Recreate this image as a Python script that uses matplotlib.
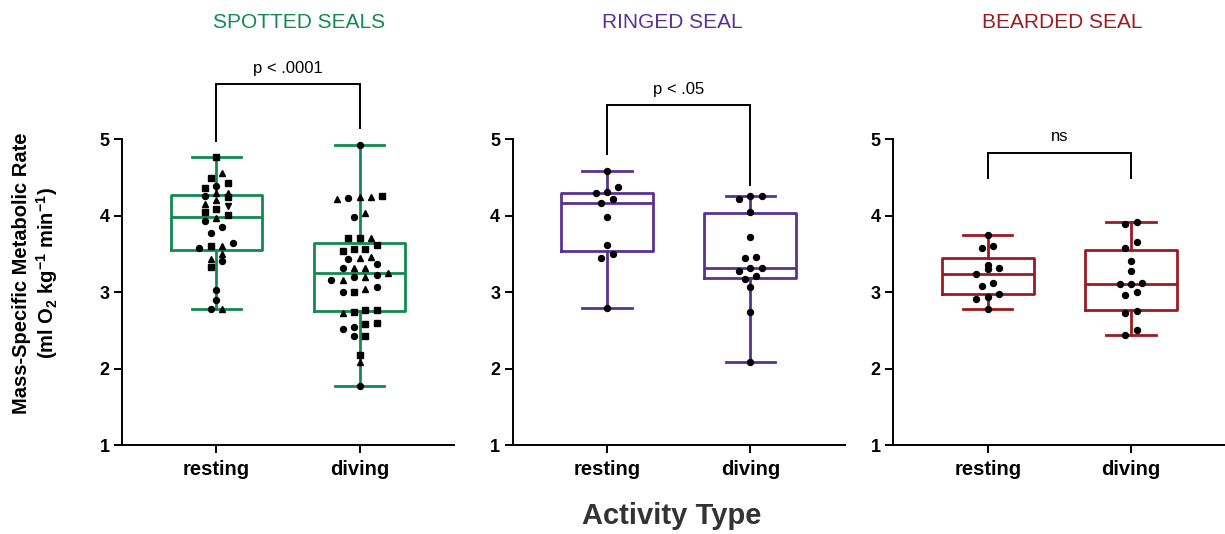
import numpy as np
import matplotlib
matplotlib.use('Agg')
import matplotlib.pyplot as plt

plt.rcParams['font.family'] = ['Liberation Sans', 'DejaVu Sans']
plt.rcParams['mathtext.fontset'] = 'custom'
plt.rcParams['mathtext.rm'] = 'Liberation Sans'
plt.rcParams['mathtext.bf'] = 'Liberation Sans:bold'

# ---------------- data ----------------
categories = ['resting', 'diving']
species = ['SPOTTED SEALS', 'RINGED SEAL', 'BEARDED SEAL']
colors = ['#138a51', '#5a3192', '#9b1c20']

# Spotted seals (different markers = different individuals)
spotted_rest_circle = [4.39, 4.25, 3.93, 3.85, 3.77, 3.64, 3.58, 3.40, 3.03, 2.90, 2.78]
spotted_rest_square = [4.76, 4.49, 4.43, 4.36, 4.24, 4.08, 4.04, 4.01, 3.60, 3.33]
spotted_rest_triangle = [4.56, 4.30, 4.30, 4.20, 4.15, 3.97, 3.60, 3.50, 3.43, 2.78]
spotted_rest_tridown = [4.12]

spotted_dive_circle = [4.92, 4.23, 3.98, 3.43, 3.36, 3.31, 3.22, 3.20, 3.16, 3.06,
                       3.00, 2.54, 2.52, 2.42, 1.77]
spotted_dive_square = [4.26, 3.71, 3.71, 3.61, 3.56, 3.56, 3.53, 3.00, 2.76, 2.76,
                       2.74, 2.60, 2.58, 2.43, 2.18]
spotted_dive_triangle = [4.24, 4.24, 4.21, 4.03, 3.71, 3.46, 3.45, 3.32, 3.31, 3.25,
                         3.20, 3.16, 3.04, 2.73, 2.08]
spotted_dive_tridown = []

ringed_rest = [4.58, 4.37, 4.31, 4.30, 4.22, 4.16, 3.98, 3.61, 3.50, 3.44, 2.79]
ringed_dive = [4.25, 4.25, 4.22, 4.04, 3.72, 3.46, 3.45, 3.32, 3.31, 3.27, 3.21,
               3.17, 3.06, 2.74, 2.08]

bearded_rest = [3.74, 3.60, 3.57, 3.35, 3.32, 3.30, 3.23, 3.12, 3.08, 2.97, 2.93,
                2.91, 2.78]
bearded_dive = [3.92, 3.89, 3.66, 3.57, 3.41, 3.27, 3.12, 3.11, 3.10, 3.00, 2.96,
                2.75, 2.72, 2.50, 2.44]

# box statistics (resting, diving)
spotted_q1 = [3.55, 2.75]
spotted_med = [3.98, 3.25]
spotted_q3 = [4.27, 3.64]
ringed_q1 = [3.53, 3.18]
ringed_med = [4.16, 3.32]
ringed_q3 = [4.30, 4.03]
bearded_q1 = [2.97, 2.77]
bearded_med = [3.23, 3.10]
bearded_q3 = [3.44, 3.55]

# significance brackets
bracket_labels = ['p < .0001', 'p < .05', 'ns']
bracket_top = [5.715, 5.44, 4.82]
bracket_left_end = [4.97, 4.80, 4.49]
bracket_right_end = [5.14, 4.40, 4.49]

yticks = [1, 2, 3, 4, 5]

# ---------------- build groups ----------------
def group(lists_markers):
    vals, marks = [], []
    for lst, m in lists_markers:
        vals.extend(lst)
        marks.extend([m] * len(lst))
    return np.array(vals), marks

panels = [
    dict(groups=[group([(spotted_rest_circle, 'o'), (spotted_rest_square, 's'),
                        (spotted_rest_triangle, '^'), (spotted_rest_tridown, 'v')]),
                 group([(spotted_dive_circle, 'o'), (spotted_dive_square, 's'),
                        (spotted_dive_triangle, '^'), (spotted_dive_tridown, 'v')])],
         q1=spotted_q1, med=spotted_med, q3=spotted_q3),
    dict(groups=[group([(ringed_rest, 'o')]), group([(ringed_dive, 'o')])],
         q1=ringed_q1, med=ringed_med, q3=ringed_q3),
    dict(groups=[group([(bearded_rest, 'o')]), group([(bearded_dive, 'o')])],
         q1=bearded_q1, med=bearded_med, q3=bearded_q3),
]

W, H = 1225, 534
fig = plt.figure(figsize=(W / 100, H / 100), dpi=100)

ax_left_px = [122, 512.7, 893.3]
ax_w_px, ax_b_px, ax_h_px = 332, 89, 306
xlim = (-0.66, 1.66)
ylim = (1, 5)
px_per_x = ax_w_px / (xlim[1] - xlim[0])
px_per_y = ax_h_px / (ylim[1] - ylim[0])


def swarm_offsets(values, band_px=7.5, step_px=11.3):
    order = np.argsort(values, kind='stable')
    offsets = np.zeros(len(values))
    rows, current, start = [], [], None
    for idx in order:
        v = values[idx]
        if current and (v - start) * px_per_y > band_px:
            rows.append(current)
            current = []
        if not current:
            start = v
        current.append(idx)
    if current:
        rows.append(current)
    for row in rows:
        n = len(row)
        for i, idx in enumerate(row):
            offsets[idx] = (i - (n - 1) / 2) * step_px / px_per_x
    return offsets


title_px = [(299, 22), (672, 22), (1062, 22)]
msize = {'o': 4.3, 's': 4.0, '^': 4.6, 'v': 4.6}

for k, (p, col) in enumerate(zip(panels, colors)):
    ax = fig.add_axes([ax_left_px[k] / W, ax_b_px / H, ax_w_px / W, ax_h_px / H])
    ax.set_xlim(*xlim)
    ax.set_ylim(*ylim)
    stats = []
    for j, (vals, marks) in enumerate(p['groups']):
        stats.append(dict(med=p['med'][j], q1=p['q1'][j], q3=p['q3'][j],
                          whislo=vals.min(), whishi=vals.max(), fliers=[]))
    lw = 2.0
    ax.bxp(stats, positions=[0, 1], widths=0.64, capwidths=0.345, showfliers=False,
           patch_artist=False,
           boxprops=dict(color=col, linewidth=lw),
           whiskerprops=dict(color=col, linewidth=lw),
           capprops=dict(color=col, linewidth=lw),
           medianprops=dict(color=col, linewidth=lw))
    for j, (vals, marks) in enumerate(p['groups']):
        off = swarm_offsets(vals)
        marks = np.array(marks)
        for m in ['o', 's', '^', 'v']:
            sel = marks == m
            if sel.any():
                ax.plot(j + off[sel], vals[sel], linestyle='none', marker=m,
                        markersize=msize[m], color='black', zorder=4, clip_on=False)
    # bracket
    ax.plot([0, 0, 1, 1],
            [bracket_left_end[k], bracket_top[k], bracket_top[k], bracket_right_end[k]],
            color='black', linewidth=1.4, clip_on=False, solid_joinstyle='miter')
    ax.annotate(bracket_labels[k], xy=(0.5, bracket_top[k]), xytext=(0, 6),
                textcoords='offset points', ha='center', va='bottom',
                fontsize=12, annotation_clip=False)
    # axes styling
    for s in ['top', 'right']:
        ax.spines[s].set_visible(False)
    for s in ['left', 'bottom']:
        ax.spines[s].set_linewidth(1.4)
    ax.set_xticks([0, 1])
    ax.set_xticklabels(categories, fontsize=14.5, fontweight='bold')
    ax.set_yticks(yticks)
    ax.set_yticklabels([str(t) for t in yticks], fontsize=13, fontweight='bold')
    ax.tick_params(axis='both', length=6, width=1.4, direction='out')
    ax.tick_params(axis='x', pad=5)
    ax.tick_params(axis='y', pad=3)
    fig.text(title_px[k][0] / W, 1 - title_px[k][1] / H, species[k], color=col,
             fontsize=15, ha='center', va='center')

fig.text(672 / W, 1 - 516 / H, 'Activity Type', fontsize=21, fontweight='bold',
         color='#333333', ha='center', va='center')
fig.text(36 / W, 1 - 273 / H,
         'Mass-Specific Metabolic Rate\n(ml O$_\\mathbf{2}$ kg$^\\mathbf{-1}$ min$^\\mathbf{-1}$)',
         rotation=90, fontsize=14.5, fontweight='bold', ha='center', va='center',
         linespacing=1.15, multialignment='center')

fig.savefig('out.png', dpi=100)
